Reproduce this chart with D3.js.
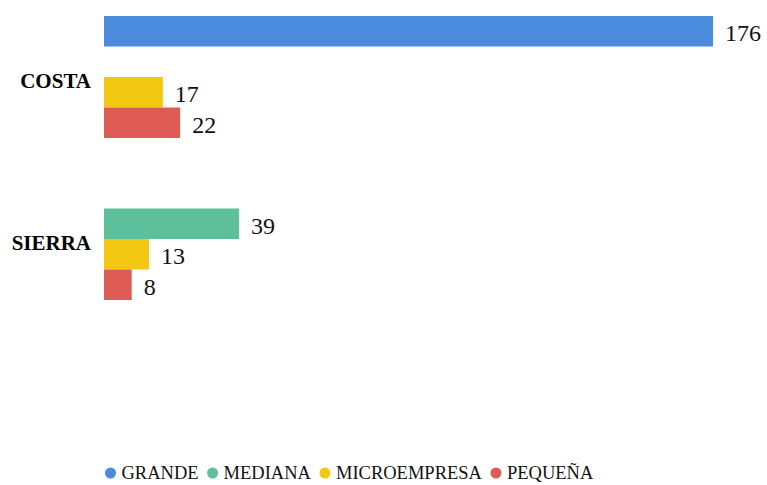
<!DOCTYPE html>
<html>
<head>
<meta charset="utf-8">
<script src="https://cdn.jsdelivr.net/npm/d3@7"></script>
<style>
  html, body { margin: 0; padding: 0; background: #fff; }
  svg { display: block; font-family: "Liberation Serif", "Times New Roman", serif; }
</style>
</head>
<body>
<svg id="chart" width="767" height="485"></svg>
<script>
/* ---------- data ---------- */
const categories  = ["COSTA", "SIERRA"];
const seriesNames = ["GRANDE", "MEDIANA", "MICROEMPRESA", "PEQUEÑA"];
const grande       = [176, null];
const mediana      = [null, 39];
const microempresa = [17, 13];
const pequena      = [22, 8];
const colors = ["#4a8cdb", "#5dbf9b", "#f2c813", "#de5b56"];

const seriesValues = [grande, mediana, microempresa, pequena];

/* ---------- scales ---------- */
const svg = d3.select("#chart");

const x = d3.scaleLinear().domain([0, 176]).range([104, 713]);

const y0 = d3.scaleBand()
  .domain(categories)
  .range([-4, 320])
  .paddingInner(40 / 162)
  .paddingOuter(20 / 162);

const y1 = d3.scaleBand()
  .domain(seriesNames)
  .range([0, y0.bandwidth()]);

const color = d3.scaleOrdinal().domain(seriesNames).range(colors);

/* ---------- bars ---------- */
const rows = [];
categories.forEach((c, ci) => {
  seriesNames.forEach((s, si) => {
    const v = seriesValues[si][ci];
    if (v != null) rows.push({ cat: c, series: s, value: v });
  });
});

const g = svg.append("g");

g.selectAll("rect")
  .data(rows)
  .join("rect")
  .attr("x", x(0))
  .attr("y", d => y0(d.cat) + y1(d.series))
  .attr("width", d => x(d.value) - x(0))
  .attr("height", y1.bandwidth())
  .attr("fill", d => color(d.series));

g.selectAll("text.val")
  .data(rows)
  .join("text")
  .attr("class", "val")
  .attr("x", d => x(d.value) + 12)
  .attr("y", d => y0(d.cat) + y1(d.series) + y1.bandwidth() / 2)
  .attr("dy", "0.42em")
  .attr("font-size", 24)
  .attr("fill", "#111")
  .text(d => d.value);

/* ---------- category labels ---------- */
g.selectAll("text.cat")
  .data(categories)
  .join("text")
  .attr("class", "cat")
  .attr("x", 91)
  .attr("y", d => y0(d) + y0.bandwidth() / 2)
  .attr("dy", "0.5em")
  .attr("text-anchor", "end")
  .attr("font-size", 21)
  .attr("font-weight", "bold")
  .attr("fill", "#000")
  .text(d => d);

/* ---------- legend ---------- */
const legend = svg.append("g").attr("transform", "translate(110.5,473)");
let lx = 0;
seriesNames.forEach(s => {
  const item = legend.append("g").attr("transform", `translate(${lx},0)`);
  item.append("circle").attr("r", 5.5).attr("fill", color(s));
  const t = item.append("text")
    .attr("x", 11)
    .attr("dy", "0.35em")
    .attr("font-size", 18.5)
    .attr("fill", "#111")
    .text(s);
  lx += 11 + t.node().getComputedTextLength() + 14;
});
</script>
</body>
</html>
